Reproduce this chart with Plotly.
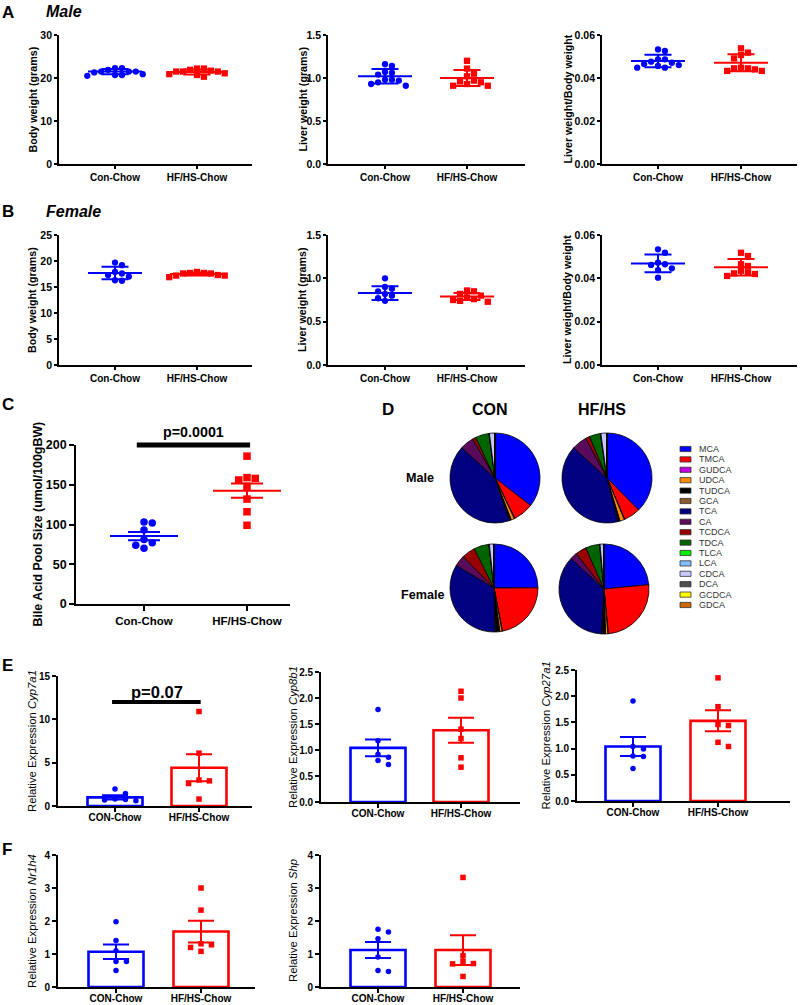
import plotly.graph_objects as go

W, H = 800, 1005
BLUE = '#0000FF'
RED = '#FF0000'
FONT = 'Liberation Sans'

# ------------------------------------------------------------------ data
groups = ['Con-Chow', 'HF/HS-Chow']
groups_qpcr = ['CON-Chow', 'HF/HS-Chow']

# Panel A (male)
bw_m_con = [22.3, 20.7, 21.5, 21.3, 21.5, 21.9, 20.5, 21.5, 22.3, 20.7, 20.9]
bw_m_hf = [20.9, 21.9, 22.2, 21.5, 21.5, 21.7, 20.3, 21.5, 22.2, 20.7, 21.1]
bw_m_mean = [21.5, 21.4]
bw_m_sd = [0.6, 0.6]
lw_m_con = [1.16, 1.14, 1.06, 1.07, 1.04, 0.98, 0.97, 0.98, 0.91, 0.93, 0.95]
lw_m_hf = [1.20, 1.11, 1.05, 1.02, 0.97, 0.96, 0.91, 0.93, 0.91, 0.95]
lw_m_mean = [1.02, 1.00]
lw_m_sd = [0.085, 0.093]
ratio_m_con = [0.0526, 0.0533, 0.0476, 0.0471, 0.0487, 0.0465, 0.0487, 0.0448, 0.0456, 0.0448, 0.0460]
ratio_m_hf = [0.0538, 0.0518, 0.0507, 0.0491, 0.0433, 0.0448, 0.0440, 0.0445, 0.0433, 0.0445]
ratio_m_mean = [0.0479, 0.0471]
ratio_m_sd = [0.0029, 0.0040]

# Panel B (female)
bw_f_con = [19.2, 19.7, 17.9, 17.6, 17.3, 17.0, 16.2, 16.3]
bw_f_hf = [17.3, 17.6, 17.7, 17.9, 16.9, 17.7, 17.2, 17.6, 17.2]
bw_f_mean = [17.7, 17.5]
bw_f_sd = [1.2, 0.3]
lw_f_con = [1.00, 0.90, 0.88, 0.85, 0.82, 0.80, 0.77, 0.74]
lw_f_hf = [0.86, 0.85, 0.82, 0.80, 0.78, 0.76, 0.75, 0.74, 0.73]
lw_f_mean = [0.83, 0.79]
lw_f_sd = [0.08, 0.04]
ratio_f_con = [0.0534, 0.0518, 0.0465, 0.0472, 0.0446, 0.0438, 0.0462, 0.0403]
ratio_f_hf = [0.0518, 0.0503, 0.0465, 0.0457, 0.0435, 0.0428, 0.0423, 0.0420, 0.0411]
ratio_f_mean = [0.0469, 0.0451]
ratio_f_sd = [0.0041, 0.0038]

# Panel C
pool_con = [102, 103, 93, 81, 77, 70, 74]
pool_hf = [186, 156, 158, 159, 148, 132, 116, 99]
pool_mean = [85.5, 142.5]
pool_sem = [5.2, 9.0]

# Panel D
bile_acids = ['MCA', 'TMCA', 'GUDCA', 'UDCA', 'TUDCA', 'GCA', 'TCA', 'CA',
              'TCDCA', 'TDCA', 'TLCA', 'LCA', 'CDCA', 'DCA', 'GCDCA', 'GDCA']
ba_colors = ['#0000FF', '#FF0000', '#C000E0', '#FF8C00', '#000000', '#8B5A2B',
             '#000080', '#5A0A5A', '#990000', '#006400', '#00EE00', '#7FBFFF',
             '#C8C8FF', '#505050', '#FFFF00', '#CC6600']
ba_male_con = [36.0, 7.4, 0.2, 1.2, 0.5, 0.3, 42.5, 5.0, 1.2, 5.0, 0.1, 0.1, 1.8, 0.1, 0.05, 0.05]
ba_male_hf = [38.0, 6.0, 0.2, 1.6, 0.5, 0.3, 41.0, 5.5, 1.5, 4.0, 0.1, 0.1, 2.0, 0.1, 0.05, 0.05]
ba_female_con = [25.0, 22.0, 0.2, 0.8, 1.5, 0.3, 34.0, 4.0, 5.0, 5.5, 0.1, 0.1, 1.5, 0.1, 0.05, 0.05]
ba_female_hf = [23.5, 25.0, 0.2, 0.8, 1.2, 0.3, 36.0, 2.5, 4.0, 5.0, 0.1, 0.1, 1.2, 0.1, 0.05, 0.05]

# Panel E
cyp7a1_con = [1.95, 1.45, 0.8, 0.75, 0.7, 0.6]
cyp7a1_hf = [10.9, 6.1, 3.0, 2.9, 2.6, 0.8]
cyp7a1_mean = [1.0, 4.42]
cyp7a1_sem = [0.25, 1.55]
cyp8b1_con = [1.78, 1.18, 0.92, 0.86, 0.80, 0.72]
cyp8b1_hf = [2.13, 2.00, 1.40, 1.22, 0.85, 0.67]
cyp8b1_mean = [1.04, 1.38]
cyp8b1_sem = [0.16, 0.24]
cyp27a1_con = [1.91, 1.04, 0.99, 0.86, 0.85, 0.62]
cyp27a1_hf = [2.35, 1.80, 1.46, 1.44, 1.12, 1.04]
cyp27a1_mean = [1.04, 1.53]
cyp27a1_sem = [0.18, 0.20]

# Panel F
nr1h4_con = [1.98, 1.41, 1.10, 0.77, 0.77, 0.50]
nr1h4_hf = [3.0, 2.33, 1.31, 1.28, 1.20, 1.08]
nr1h4_mean = [1.07, 1.68]
nr1h4_sem = [0.22, 0.33]
shp_con = [1.75, 1.67, 1.46, 0.91, 0.50, 0.47]
shp_hf = [3.32, 0.95, 0.78, 0.71, 0.70, 0.32]
shp_mean = [1.12, 1.12]
shp_sem = [0.24, 0.45]

# ------------------------------------------------------------------ helpers
layout = {}
traces = []
annotations = []
shapes = []


def names(n):
    s = '' if n == 1 else str(n)
    return 'x' + s, 'y' + s, 'xaxis' + s, 'yaxis' + s


def swarm(vals, ppu, diam, step):
    placed = []
    res = [0.0] * len(vals)
    order = sorted(range(len(vals)), key=lambda i: -vals[i])
    for i in order:
        y = vals[i] * ppu
        k = 0
        while True:
            cand = 0.0 if k == 0 else ((k + 1) // 2) * step * (1 if k % 2 else -1)
            if all((cand - px) ** 2 + (y - py) ** 2 >= (diam * 0.98) ** 2 for px, py in placed):
                break
            k += 1
        placed.append((cand, y))
        res[i] = cand
    return res


def setup_axes(n, g, ymax, ytv, ytt, cats, tick_size, cat_size, ticklen, lab_shift=0):
    xn, yn, xk, yk = names(n)
    unit = g['c1'] - g['c0']
    xr = [-(g['c0'] - g['x0']) / unit, 1 + (g['x1'] - g['c1']) / unit]
    common = dict(showline=True, linecolor='black', linewidth=1.8, ticks='outside',
                  ticklen=ticklen, tickwidth=1.6, tickcolor='black', showgrid=False,
                  zeroline=False, fixedrange=True, automargin=False)
    layout[xk] = dict(domain=[g['x0'] / W, g['x1'] / W], range=xr, anchor=yn,
                      tickmode='array', tickvals=[0, 1], ticktext=cats,
                      ticklabelstandoff=lab_shift,
                      tickfont=dict(family=FONT, size=cat_size, color='black', weight='bold'),
                      **common)
    layout[yk] = dict(domain=[1 - g['yb'] / H, 1 - g['yt'] / H], range=[0, ymax], anchor=xn,
                      tickmode='array', tickvals=ytv, ticktext=ytt,
                      tickfont=dict(family=FONT, size=tick_size, color='black', weight='bold'),
                      **common)
    return xn, yn, unit, (g['yb'] - g['yt']) / ymax


def ytitle(text, tx, g, size, bold=True):
    annotations.append(dict(text=text, x=tx / W, y=1 - (g['yt'] + g['yb']) / 2 / H,
                            xref='paper', yref='paper', textangle=-90, showarrow=False,
                            xanchor='center', yanchor='middle',
                            font=dict(family=FONT, size=size, color='black',
                                      weight='bold' if bold else 'normal')))


def label(text, cx, cy, size, bold=True, italic=False, color='black'):
    annotations.append(dict(text=text, x=cx / W, y=1 - cy / H, xref='paper', yref='paper',
                            showarrow=False, xanchor='center', yanchor='middle',
                            font=dict(family=FONT, size=size, color=color,
                                      weight='bold' if bold else 'normal',
                                      style='italic' if italic else 'normal')))


def dot_panel(n, g, con, hf, means, errs, ymax, ytv, ytt, title, tx, cats=groups,
              msize=6.3, mean_hw=27, cap_hw=13.5, tick_size=10.5, cat_size=10,
              title_size=10.7, ticklen=3):
    xn, yn, unit, ppu = setup_axes(n, g, ymax, ytv, ytt, cats, tick_size, cat_size, ticklen)
    for i, (vals, col, sym) in enumerate([(con, BLUE, 'circle'), (hf, RED, 'square')]):
        offs = swarm(vals, ppu, msize, msize * 1.1)
        traces.append(go.Scatter(x=[i + o / unit for o in offs], y=vals, mode='markers',
                                 marker=dict(symbol=sym, size=msize, color=col, line=dict(width=0)),
                                 xaxis=xn, yaxis=yn, hoverinfo='skip', cliponaxis=False))
        traces.append(go.Scatter(x=[i - mean_hw / unit, i + mean_hw / unit], y=[means[i]] * 2,
                                 mode='lines', line=dict(color=col, width=2),
                                 xaxis=xn, yaxis=yn, hoverinfo='skip'))
        traces.append(go.Scatter(x=[i], y=[means[i]], mode='markers',
                                 marker=dict(size=1, color='rgba(0,0,0,0)'),
                                 error_y=dict(type='data', array=[errs[i]], color=col,
                                              thickness=2, width=cap_hw),
                                 xaxis=xn, yaxis=yn, hoverinfo='skip'))
    ytitle(title, tx, g, title_size)
    return xn, yn, unit


def bar_panel(n, g, con, hf, means, errs, ymax, ytv, ytt, title, tx, cats=groups_qpcr,
              msize=5.5, bar_px=55, cap_hw=13, tick_size=10, cat_size=10, title_size=11.3,
              ticklen=4):
    xn, yn, unit, ppu = setup_axes(n, g, ymax, ytv, ytt, cats, tick_size, cat_size, ticklen,
                                   lab_shift=-3)
    bw = bar_px / unit
    traces.append(go.Bar(x=[0, 1], y=means, width=[bw, bw],
                         marker=dict(color='rgba(255,255,255,0)', line=dict(color=[BLUE, RED], width=2.6)),
                         xaxis=xn, yaxis=yn, hoverinfo='skip'))
    for i, (vals, col, sym) in enumerate([(con, BLUE, 'circle'), (hf, RED, 'square')]):
        offs = swarm(vals, ppu, msize, msize * 1.9)
        traces.append(go.Scatter(x=[i + o / unit for o in offs], y=vals, mode='markers',
                                 marker=dict(symbol=sym, size=msize, color=col, line=dict(width=0)),
                                 xaxis=xn, yaxis=yn, hoverinfo='skip', cliponaxis=False))
        traces.append(go.Scatter(x=[i], y=[means[i]], mode='markers',
                                 marker=dict(size=1, color='rgba(0,0,0,0)'),
                                 error_y=dict(type='data', array=[errs[i]], color=col,
                                              thickness=2, width=cap_hw),
                                 xaxis=xn, yaxis=yn, hoverinfo='skip'))
    ytitle(title, tx, g, title_size, bold=False)
    return xn, yn, unit


def sig_bar(n, g, xa, xb, yv, ymax, width):
    xn, yn, xk, yk = names(n)
    xr = layout[xk]['range']
    fx = lambda v: (v - xr[0]) / (xr[1] - xr[0])
    shapes.append(dict(type='line', xref=xn + ' domain', yref=yn + ' domain',
                       x0=fx(xa), x1=fx(xb), y0=yv / ymax, y1=yv / ymax,
                       line=dict(color='black', width=width)))


# ------------------------------------------------------------------ geometry (pixels)
gA1 = dict(x0=59, x1=252, c0=115, c1=197, yt=35, yb=164)
gA2 = dict(x0=328, x1=525, c0=385, c1=467, yt=35, yb=164)
gA3 = dict(x0=602, x1=797, c0=658, c1=741, yt=35, yb=164)
gB1 = dict(x0=59, x1=252, c0=115, c1=197, yt=235, yb=365)
gB2 = dict(x0=328, x1=525, c0=385, c1=467, yt=235, yb=365)
gB3 = dict(x0=602, x1=797, c0=658, c1=741, yt=235, yb=365)
gC = dict(x0=76, x1=290, c0=144, c1=247, yt=445, yb=604)
gE1 = dict(x0=58, x1=252, c0=115, c1=199, yt=676, yb=806)
gE2 = dict(x0=321, x1=520, c0=378, c1=461, yt=672, yb=802)
gE3 = dict(x0=577, x1=790, c0=633, c1=718, yt=670, yb=801)
gF1 = dict(x0=58, x1=255, c0=116, c1=201, yt=855, yb=987)
gF2 = dict(x0=321, x1=520, c0=378, c1=463, yt=855, yb=987)

# ------------------------------------------------------------------ panels A & B
dot_panel(1, gA1, bw_m_con, bw_m_hf, bw_m_mean, bw_m_sd, 30, [0, 10, 20, 30],
          ['0', '10', '20', '30'], 'Body weight (grams)', 32)
dot_panel(2, gA2, lw_m_con, lw_m_hf, lw_m_mean, lw_m_sd, 1.5, [0, 0.5, 1.0, 1.5],
          ['0.0', '0.5', '1.0', '1.5'], 'Liver weight (grams)', 302)
dot_panel(3, gA3, ratio_m_con, ratio_m_hf, ratio_m_mean, ratio_m_sd, 0.06,
          [0, 0.02, 0.04, 0.06], ['0.00', '0.02', '0.04', '0.06'],
          'Liver weight/Body weight', 567)
dot_panel(4, gB1, bw_f_con, bw_f_hf, bw_f_mean, bw_f_sd, 25, [0, 5, 10, 15, 20, 25],
          ['0', '5', '10', '15', '20', '25'], 'Body weight (grams)', 32)
dot_panel(5, gB2, lw_f_con, lw_f_hf, lw_f_mean, lw_f_sd, 1.5, [0, 0.5, 1.0, 1.5],
          ['0.0', '0.5', '1.0', '1.5'], 'Liver weight (grams)', 302)
dot_panel(6, gB3, ratio_f_con, ratio_f_hf, ratio_f_mean, ratio_f_sd, 0.06,
          [0, 0.02, 0.04, 0.06], ['0.00', '0.02', '0.04', '0.06'],
          'Liver weight/Body weight', 567)

# ------------------------------------------------------------------ panel C
dot_panel(7, gC, pool_con, pool_hf, pool_mean, pool_sem, 200, [0, 50, 100, 150, 200],
          ['0', '50', '100', '150', '200'], 'Bile Acid Pool Size (umol/100gBW)', 37,
          msize=7.5, mean_hw=34, cap_hw=16, tick_size=12.5, cat_size=11.5, title_size=12.4,
          ticklen=5)
sig_bar(7, gC, -0.07, 1.03, 200, 200, 5)
label('p=0.0001', 193, 432, 14.3)

# ------------------------------------------------------------------ panel E & F
bar_panel(8, gE1, cyp7a1_con, cyp7a1_hf, cyp7a1_mean, cyp7a1_sem, 15, [0, 5, 10, 15],
          ['0', '5', '10', '15'], 'Relative Expression <i>Cyp7a1</i>', 32)
sig_bar(8, gE1, -0.035, 1.02, 12, 15, 4)
label('p=0.07', 157, 691.5, 16.5)
bar_panel(9, gE2, cyp8b1_con, cyp8b1_hf, cyp8b1_mean, cyp8b1_sem, 2.5,
          [0, 0.5, 1.0, 1.5, 2.0, 2.5], ['0.0', '0.5', '1.0', '1.5', '2.0', '2.5'],
          'Relative Expression <i>Cyp8b1</i>', 293)
bar_panel(10, gE3, cyp27a1_con, cyp27a1_hf, cyp27a1_mean, cyp27a1_sem, 2.5,
          [0, 0.5, 1.0, 1.5, 2.0, 2.5], ['0.0', '0.5', '1.0', '1.5', '2.0', '2.5'],
          'Relative Expression <i>Cyp27a1</i>', 545)
bar_panel(11, gF1, nr1h4_con, nr1h4_hf, nr1h4_mean, nr1h4_sem, 4, [0, 1, 2, 3, 4],
          ['0', '1', '2', '3', '4'], 'Relative Expression <i>Nr1h4</i>', 32)
bar_panel(12, gF2, shp_con, shp_hf, shp_mean, shp_sem, 4, [0, 1, 2, 3, 4],
          ['0', '1', '2', '3', '4'], 'Relative Expression <i>Shp</i>', 293)

# ------------------------------------------------------------------ panel D (pies)
pies = [(ba_male_con, 495, 478, 45), (ba_male_hf, 607, 478, 45),
        (ba_female_con, 494, 588, 44), (ba_female_hf, 604, 589, 45)]
for vals, cx, cy, r in pies:
    traces.append(go.Pie(values=vals, labels=bile_acids, sort=False, direction='clockwise',
                         rotation=0, textinfo='none', hoverinfo='label+percent',
                         marker=dict(colors=ba_colors, line=dict(color='black', width=0.8)),
                         domain=dict(x=[(cx - r) / W, (cx + r) / W],
                                     y=[1 - (cy + r) / H, 1 - (cy - r) / H]),
                         showlegend=False))

for k, (lab, col) in enumerate(zip(bile_acids, ba_colors)):
    yc = 449 + k * 10.4
    shapes.append(dict(type='rect', xref='paper', yref='paper',
                       x0=680 / W, x1=691 / W, y0=1 - (yc + 2.6) / H, y1=1 - (yc - 2.6) / H,
                       fillcolor=col, line=dict(color='#333333', width=0.8)))
    annotations.append(dict(text=lab, x=697 / W, y=1 - yc / H, xref='paper', yref='paper',
                            showarrow=False, xanchor='left', yanchor='middle',
                            font=dict(family=FONT, size=9, color='#333333')))

label('CON', 490, 410, 16)
label('HF/HS', 602, 410, 16)
label('Male', 420, 478, 12.6)
label('Female', 422, 595, 12.6)

# ------------------------------------------------------------------ panel letters / headers
label('A', 8, 12, 17)
label('Male', 64, 11.5, 16, italic=True)
label('B', 8, 211.5, 17)
label('Female', 73, 211.5, 16, italic=True)
label('C', 8, 404.5, 17)
label('D', 388, 410, 17)
label('E', 7, 665.5, 17)
label('F', 7, 849.5, 17)

fig = go.Figure(data=traces)
fig.update_layout(template='none')
fig.update_layout(**layout)
fig.update_layout(width=W, height=H, margin=dict(l=0, r=0, t=0, b=0, pad=0),
                  paper_bgcolor='white', plot_bgcolor='rgba(0,0,0,0)', showlegend=False,
                  annotations=annotations, shapes=shapes, barmode='overlay',
                  font=dict(family=FONT, color='black'))
fig.write_html('out.html', config={'displayModeBar': False},
               post_script="document.body.style.margin='0';document.body.style.padding='0';"
                           "document.body.style.overflow='hidden';")
